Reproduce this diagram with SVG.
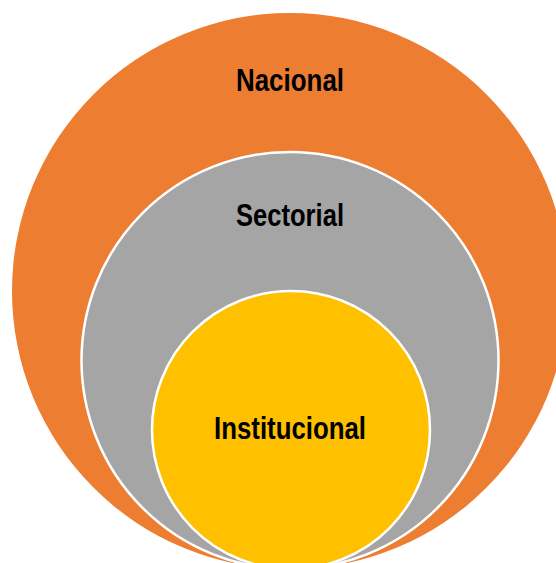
<svg xmlns="http://www.w3.org/2000/svg" width="556" height="563" viewBox="0 0 556 563">
<style>
.lbl{font-family:"Liberation Sans Narrow","Liberation Sans",Arial,sans-serif;font-weight:bold;font-size:32px;fill:#000;text-anchor:middle}
.ring{stroke:#fff;stroke-width:2.5}
</style>
<rect width="556" height="563" fill="#fff"/>
<g id="nacional">
<circle cx="290" cy="291" r="278" fill="#ED7D31"/>
<text class="lbl" x="290" y="91" textLength="108" lengthAdjust="spacingAndGlyphs">Nacional</text>
</g>
<g id="sectorial">
<circle class="ring" cx="290" cy="360.5" r="208.5" fill="#A5A5A5"/>
<text class="lbl" x="290" y="226" textLength="108" lengthAdjust="spacingAndGlyphs">Sectorial</text>
</g>
<g id="institucional">
<circle class="ring" cx="291" cy="430" r="139" fill="#FFC000"/>
<text class="lbl" x="290" y="439" textLength="152" lengthAdjust="spacingAndGlyphs">Institucional</text>
</g>
<g id="connectors"></g>
</svg>
